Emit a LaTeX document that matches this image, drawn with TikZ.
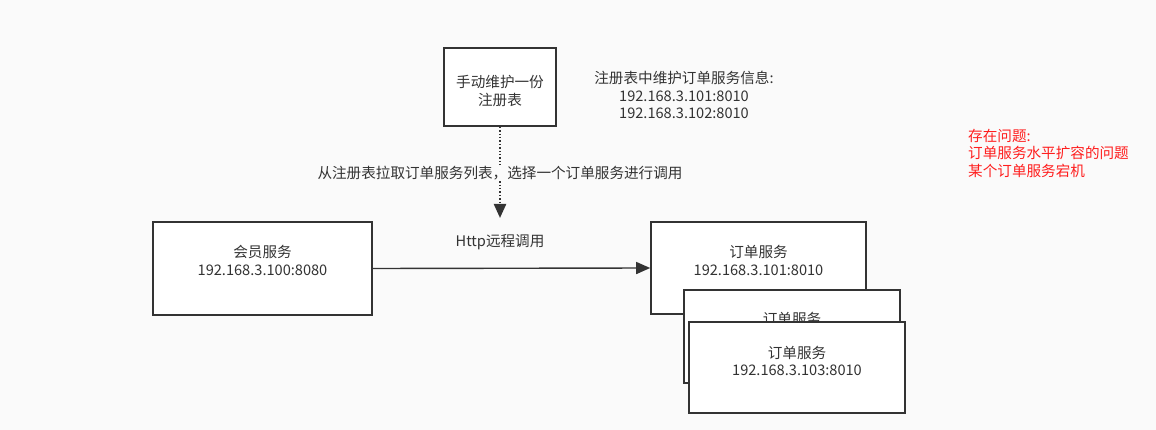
\documentclass[tikz,border=0pt]{standalone}
\usepackage{fontspec}
\setmainfont{Noto Sans CJK SC}
\usetikzlibrary{arrows.meta}
\definecolor{bg}{RGB}{250,250,250}
\definecolor{txt}{RGB}{51,51,51}
\definecolor{edge}{RGB}{51,51,51}
\definecolor{warn}{RGB}{255,30,30}
\begin{document}
\begin{tikzpicture}[x=1pt,y=-1pt,
  box/.style={draw=edge,line width=1.6pt,fill=white,inner sep=0pt},
  lbl/.style={text=txt,align=center,inner sep=1pt,font=\fontsize{14.6}{17.5}\selectfont},
  arr/.style={draw=edge,line width=1.4pt,-{Triangle[length=14pt,width=12pt]}}]
\fill[bg] (0,0) rectangle (1156,430);
\useasboundingbox (0,0) rectangle (1156,430);
\node[box,minimum width=112pt,minimum height=78pt] (reg) at (500,87) {};
\node[lbl] (regt) at (500,91) {手动维护一份\\注册表};
\node[box,minimum width=219pt,minimum height=93pt] (mem) at (262.5,268.5) {};
\node[lbl] (memt) at (262.5,260.5) {会员服务\\192.168.3.100:8080};
\node[box,minimum width=215pt,minimum height=92pt] (o1) at (758.5,268) {};
\node[lbl] (o1t) at (758.5,260.5) {订单服务\\192.168.3.101:8010};
\node[box,minimum width=216pt,minimum height=93pt] (o2) at (792,336.5) {};
\node[lbl] (o2t) at (792,327) {订单服务\\192.168.3.102:8010};
\node[box,minimum width=216pt,minimum height=91pt] (o3) at (797,367.5) {};
\node[lbl] (o3t) at (797,361) {订单服务\\192.168.3.103:8010};
\coordinate (tgt) at (500,218);
\draw[arr,dotted,line width=2.2pt] (reg.south) -- (tgt);
\node[lbl,fill=bg] (pull) at (500,173) {从注册表拉取订单服务列表，选择一个订单服务进行调用};
\draw[arr] (mem.east) -- (o1.west);
\node[lbl] (http) at (500,242) {Http远程调用};
\node[lbl] (info) at (684,95) {注册表中维护订单服务信息:\\192.168.3.101:8010\\192.168.3.102:8010};
\node[lbl,text=warn,align=left,anchor=north west] (prob) at (967,128) {存在问题:\\订单服务水平扩容的问题\\某个订单服务宕机};
\end{tikzpicture}
\end{document}
